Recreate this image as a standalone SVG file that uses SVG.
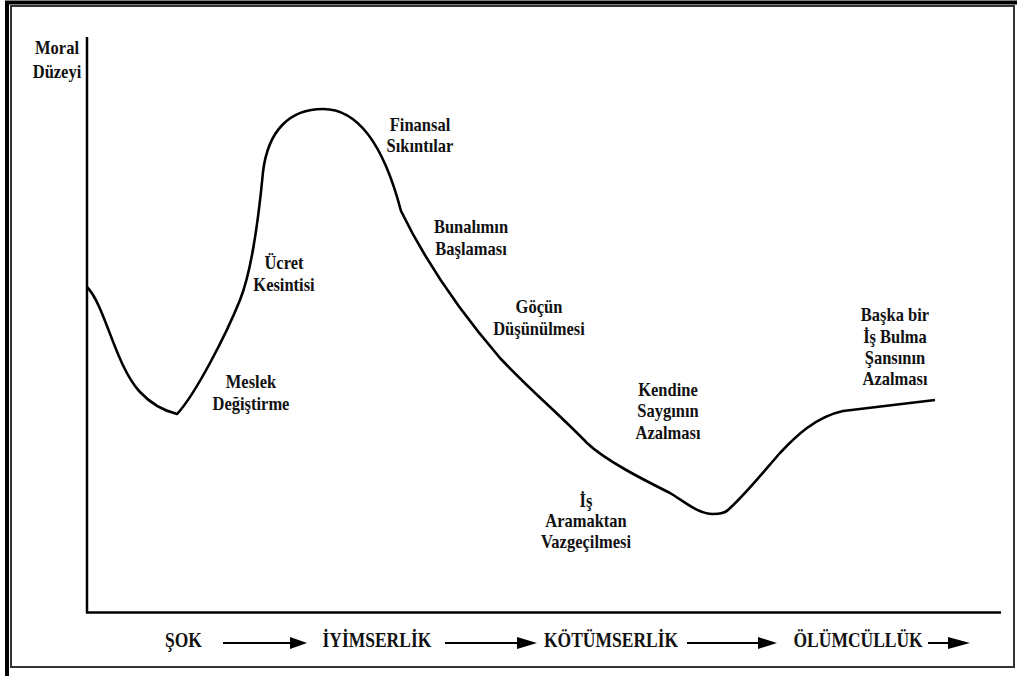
<svg xmlns="http://www.w3.org/2000/svg" width="1017" height="676" viewBox="0 0 1017 676" font-family="'Liberation Serif', 'DejaVu Serif', serif">
<defs>
<style>
text{font-family:'Liberation Serif','DejaVu Serif','Times New Roman',serif;font-weight:bold;fill:#111;text-anchor:middle;transform-box:fill-box;transform-origin:50% 80.5%;transform:scale(1,1.15)}
.lbl{font-size:16.5px}
.stage{font-size:17.5px;text-anchor:start}
.ax{stroke:#000;stroke-width:2.5;fill:none}
.curve{stroke:#000;stroke-width:2.6;fill:none;stroke-linejoin:round}
.arr{stroke:#000;stroke-width:2;fill:none}
</style>
</defs>
<rect width="1017" height="676" fill="#fff"/>
<g id="frame">
<rect x="7" y="2.5" width="1020" height="690" fill="none" stroke="#000" stroke-width="4"/>
<rect x="11" y="6" width="1003" height="661" fill="none" stroke="#333" stroke-width="2"/>
</g>
<g id="axes">
<line class="ax" x1="87" y1="37" x2="87" y2="613"/>
<line class="ax" x1="86" y1="612.5" x2="1001" y2="612.5"/>
</g>
<g id="axis-label">
<text class="lbl" x="57" y="54">Moral</text>
<text class="lbl" x="57" y="78">Düzeyi</text>
</g>
<g id="morale-curve">
<path class="curve" d="M87,287 C105,305 115,365 140,392 C152,405 165,411 177,414 C195,395 226,335 240,300 C250,275 258,225 263,172 C268,130 290,109 323,109 C360,109 385,150 401,211 C420,250 450,300 500,358 C530,390 560,415 587,443 C605,460 640,478 670,493 C685,502 698,514 713,514 C720,514 725,513 728,510 C745,495 765,470 780,453 C795,437 815,417 843,411 L935,400"/>
</g>
<g id="label-meslek">
<text class="lbl" x="251" y="388">Meslek</text>
<text class="lbl" x="251" y="410">Değiştirme</text>
</g>
<g id="label-ucret">
<text class="lbl" x="284" y="269">Ücret</text>
<text class="lbl" x="284" y="291">Kesintisi</text>
</g>
<g id="label-finansal">
<text class="lbl" x="420" y="131">Finansal</text>
<text class="lbl" x="420" y="152">Sıkıntılar</text>
</g>
<g id="label-bunalim">
<text class="lbl" x="471" y="233">Bunalımın</text>
<text class="lbl" x="471" y="255">Başlaması</text>
</g>
<g id="label-gocun">
<text class="lbl" x="539" y="313">Göçün</text>
<text class="lbl" x="539" y="335">Düşünülmesi</text>
</g>
<g id="label-kendine">
<text class="lbl" x="668" y="396">Kendine</text>
<text class="lbl" x="668" y="417">Saygının</text>
<text class="lbl" x="668" y="439">Azalması</text>
</g>
<g id="label-is">
<text class="lbl" x="586" y="507">İş</text>
<text class="lbl" x="586" y="527">Aramaktan</text>
<text class="lbl" x="586" y="548">Vazgeçilmesi</text>
</g>
<g id="label-baska">
<text class="lbl" x="895" y="321">Başka bir</text>
<text class="lbl" x="895" y="343">İş Bulma</text>
<text class="lbl" x="895" y="364">Şansının</text>
<text class="lbl" x="895" y="385">Azalması</text>
</g>
<g id="stages">
<text class="stage" x="165" y="647">ŞOK</text>
<text class="stage" x="322.5" y="647">İYİMSERLİK</text>
<text class="stage" x="544" y="647">KÖTÜMSERLİK</text>
<text class="stage" x="793.5" y="647">ÖLÜMCÜLLÜK</text>
</g>
<g id="connectors">
<line class="arr" x1="223" y1="643" x2="292" y2="643"/>
<polygon points="290,637 307,643 290,649"/>
<line class="arr" x1="445" y1="643" x2="519" y2="643"/>
<polygon points="517,637 537,643 517,649"/>
<line class="arr" x1="687" y1="643" x2="760" y2="643"/>
<polygon points="758,637 777,643 758,649"/>
<line class="arr" x1="928" y1="643" x2="950" y2="643"/>
<polygon points="948,637 970,643 948,649"/>
</g>
</svg>
